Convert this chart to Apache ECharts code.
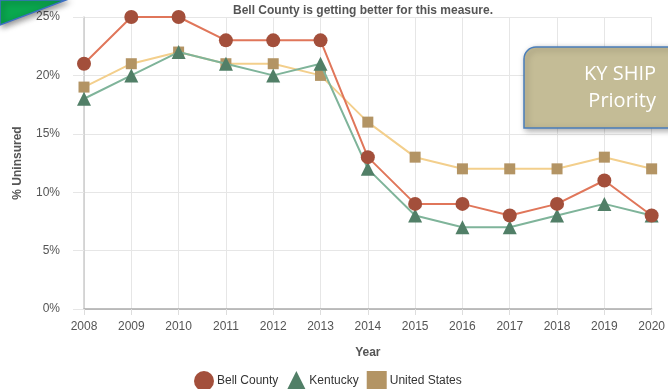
<!DOCTYPE html>
<html>
<head>
<meta charset="utf-8">
<script src="https://cdn.jsdelivr.net/npm/echarts@6/dist/echarts.min.js"></script>
<style>
html,body{margin:0;padding:0;background:#fff;}
#main{width:668px;height:389px;}
</style>
</head>
<body>
<div id="main"></div>
<script>
const years = ['2008','2009','2010','2011','2012','2013','2014','2015','2016','2017','2018','2019','2020'];
const bellCounty = [21, 25, 25, 23, 23, 23, 13, 9, 9, 8, 9, 11, 8];
const kentucky = [18, 20, 22, 21, 20, 21, 12, 8, 7, 7, 8, 9, 8];
const unitedStates = [19, 21, 22, 21, 21, 20, 16, 13, 12, 12, 12, 13, 12];
const yTicks = [0, 5, 10, 15, 20, 25];

const chart = echarts.init(document.getElementById('main'));
const font = 'Helvetica, Arial, "Liberation Sans", sans-serif';
chart.setOption({
  animation: false,
  textStyle: {fontFamily: font},
  title: {
    text: 'Bell County is getting better for this measure.',
    left: 358, top: 0, textAlign: 'center',
    textStyle: {fontSize: 12, fontWeight: 'bold', color: '#555', fontFamily: font}
  },
  grid: {left: 84, right: 16, top: 17, bottom: 80, containLabel: false},
  legend: {
    top: 366, left: 189,
    itemWidth: 20, itemHeight: 20, itemGap: 8,
    textStyle: {fontSize: 12, color: '#333', fontFamily: font, padding: [0, 0, 0, -2]},
    data: [
      {name: 'Bell County', icon: 'circle'},
      {name: 'Kentucky', icon: 'triangle'},
      {name: 'United States', icon: 'rect'}
    ]
  },
  xAxis: {
    type: 'category', data: years, boundaryGap: false,
    name: 'Year', nameLocation: 'middle', nameGap: 38,
    nameTextStyle: {fontWeight: 'bold', fontSize: 12, color: '#555'},
    axisLine: {lineStyle: {color: '#aaa', width: 1.5}},
    axisTick: {show: true, length: 6, lineStyle: {color: '#ddd'}},
    axisLabel: {fontSize: 12, color: '#555', margin: 12},
    splitLine: {show: true, lineStyle: {color: '#e6e6e6'}}
  },
  yAxis: {
    type: 'value', min: 0, max: 25, interval: 5,
    name: '% Uninsured', nameLocation: 'middle', nameGap: 60,
    nameTextStyle: {fontWeight: 'bold', fontSize: 12, color: '#555'},
    axisLine: {show: true, lineStyle: {color: '#ccc', width: 1.5}},
    axisTick: {show: true, length: 11, lineStyle: {color: '#e6e6e6'}},
    axisLabel: {fontSize: 12, color: '#555', margin: 24, formatter: v => yTicks.includes(v) ? v + '%' : ''},
    splitLine: {show: true, lineStyle: {color: '#e6e6e6'}}
  },
  series: [
    {
      name: 'United States', type: 'line', data: unitedStates,
      symbol: 'rect', symbolSize: 11, z: 2,
      lineStyle: {color: '#f3cf8c', width: 2},
      itemStyle: {color: '#b39464'}
    },
    {
      name: 'Kentucky', type: 'line', data: kentucky,
      symbol: 'triangle', symbolSize: 14, z: 3,
      lineStyle: {color: '#7fb49a', width: 2},
      itemStyle: {color: '#517f67'}
    },
    {
      name: 'Bell County', type: 'line', data: bellCounty,
      symbol: 'circle', symbolSize: 14, z: 4,
      lineStyle: {color: '#e0765a', width: 2},
      itemStyle: {color: '#a34f3b'}
    }
  ],
  graphic: [
    {
      type: 'polygon', z: 100,
      shape: {points: [[0, 0], [66, 0], [0, 25]]},
      style: {fill: '#0aa84f', stroke: '#3d6fc4', lineWidth: 1.5,
        shadowBlur: 6, shadowColor: 'rgba(0,0,0,0.45)', shadowOffsetX: 2, shadowOffsetY: 2}
    },
    {
      type: 'rect', z: 100,
      shape: {x: 524, y: 47, width: 160, height: 81, r: [12, 0, 0, 0]},
      style: {fill: '#c4bc96', stroke: '#4a7ebb', lineWidth: 1.5,
        shadowBlur: 6, shadowColor: 'rgba(0,0,0,0.35)', shadowOffsetX: 2, shadowOffsetY: 2}
    },
    {
      type: 'text', z: 101,
      style: {text: 'KY SHIP\nPriority', x: 656, y: 88, align: 'right', verticalAlign: 'middle',
        fill: '#fff', font: '20px "Open Sans", sans-serif', lineHeight: 27}
    }
  ]
});
</script>
</body>
</html>
